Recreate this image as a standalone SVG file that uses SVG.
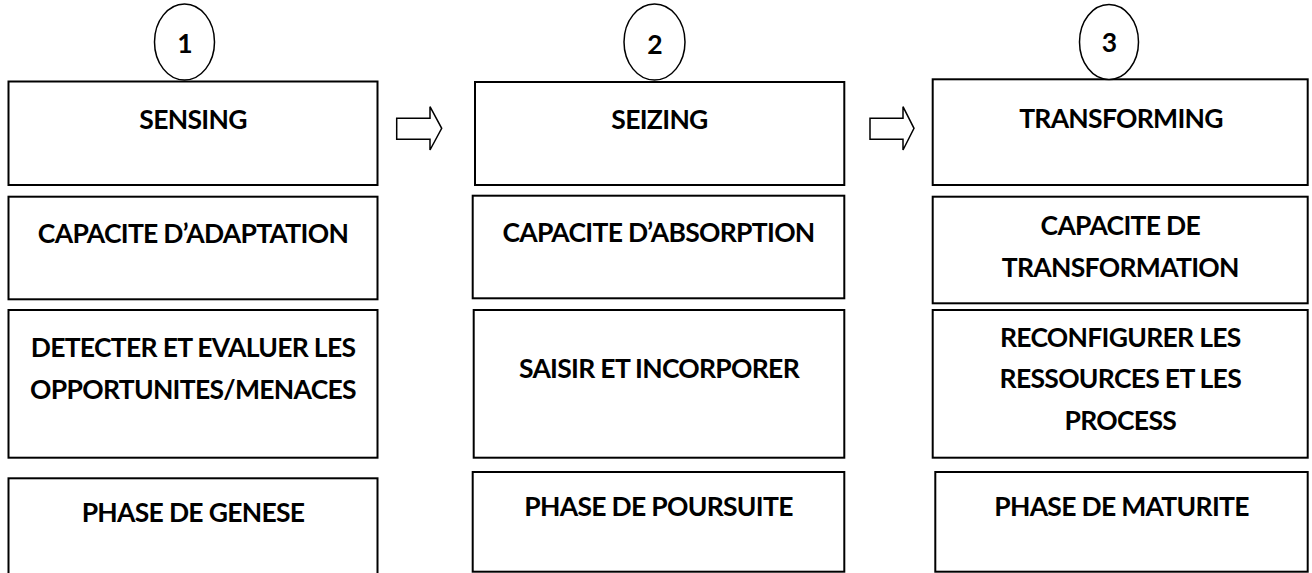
<svg xmlns="http://www.w3.org/2000/svg" width="1312" height="573" viewBox="0 0 1312 573">
<style>
.box{fill:#fff;stroke:#000;stroke-width:2}
.circ{fill:#fff;stroke:#000;stroke-width:1.5}
.arr{fill:#fff;stroke:#000;stroke-width:1.5;stroke-linejoin:miter}
text{font-family:Lato,"Open Sans","Liberation Sans",sans-serif;font-weight:bold;font-size:26.5px;letter-spacing:-0.7px;fill:#000;text-anchor:middle}
</style>
<rect width="1312" height="573" fill="#fff"/>
<g id="connectors">
<polygon class="arr" points="396.7,118.3 430,118.3 430,106.7 441.7,128.3 430,150 430,139.3 396.7,139.3"/>
<polygon class="arr" points="870,118.3 903,118.3 903,106.7 914,128.3 903,150 903,139.3 870,139.3"/>
</g>
<g id="col1">
<g id="sensing"><rect class="box" x="8.5" y="81.5" width="369" height="103.5"/><text x="193" y="128.5">SENSING</text></g>
<g id="num1"><ellipse class="circ" cx="184.5" cy="42" rx="30" ry="38"/><text x="184.5" y="53">1</text></g>
<g id="adaptation"><rect class="box" x="8.5" y="196.7" width="369" height="102.6"/><text x="193" y="242.5">CAPACITE D’ADAPTATION</text></g>
<g id="detecter"><rect class="box" x="8.5" y="310" width="369" height="147.7"/><text x="193" y="356.5">DETECTER ET EVALUER LES</text><text x="193" y="398.8">OPPORTUNITES/MENACES</text></g>
<g id="genese"><rect class="box" x="8.5" y="478.3" width="369" height="110"/><text x="193" y="521.5">PHASE DE GENESE</text></g>
</g>
<g id="col2">
<g id="seizing"><rect class="box" x="475" y="82" width="369.3" height="103"/><text x="659.5" y="128.5">SEIZING</text></g>
<g id="num2"><ellipse class="circ" cx="654.5" cy="42" rx="30.5" ry="38"/><text x="654.5" y="53.5">2</text></g>
<g id="absorption"><rect class="box" x="472.7" y="195.7" width="371.6" height="102.6"/><text x="658.5" y="241.5">CAPACITE D’ABSORPTION</text></g>
<g id="saisir"><rect class="box" x="473.7" y="310" width="370.6" height="147.7"/><text x="659" y="378.3">SAISIR ET INCORPORER</text></g>
<g id="poursuite"><rect class="box" x="472.7" y="472" width="371.6" height="99.7"/><text x="658.5" y="516">PHASE DE POURSUITE</text></g>
</g>
<g id="col3">
<g id="transforming"><rect class="box" x="932.7" y="79.3" width="375" height="105.7"/><text x="1121" y="127.7">TRANSFORMING</text></g>
<g id="num3"><ellipse class="circ" cx="1109" cy="42" rx="29.5" ry="37.5"/><text x="1109" y="52">3</text></g>
<g id="capacite-transformation"><rect class="box" x="932.7" y="196.7" width="375" height="106.6"/><text x="1120.3" y="235">CAPACITE DE</text><text x="1120.3" y="276.7">TRANSFORMATION</text></g>
<g id="reconfigurer"><rect class="box" x="932.7" y="310" width="375" height="147.7"/><text x="1120.3" y="346.7">RECONFIGURER LES</text><text x="1120.3" y="388.3">RESSOURCES ET LES</text><text x="1120.3" y="430">PROCESS</text></g>
<g id="maturite"><rect class="box" x="935.3" y="472" width="372.4" height="99.7"/><text x="1121.5" y="516">PHASE DE MATURITE</text></g>
</g>
</svg>
